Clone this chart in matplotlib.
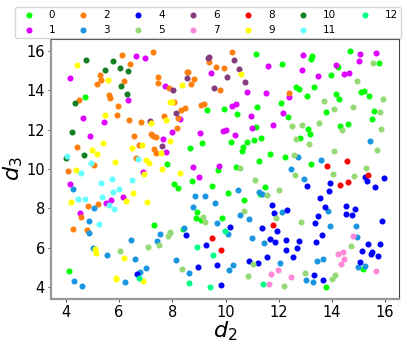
import numpy as np
import matplotlib
matplotlib.use('Agg')
import matplotlib.pyplot as plt

d2_0 = [4.73, 7.8, 11.16, 12.13, 12.08, 9.31, 9.96, 10.43, 11.18, 12.33, 11.13, 8.68, 9.12, 10.19, 10.82, 10.64, 10.62, 11.06, 11.33, 11.69, 12.23, 11.24, 10.41, 9.72, 14.69, 13.26, 13.2, 15.76, 14.21, 13.96, 12.63, 12.77, 13.31, 13.08, 14.17, 14.27, 15.1, 15.19, 15.4, 13.79, 15.58, 15.51, 14.6, 14.32, 13.11, 13.16, 12.81, 13.22, 7.31, 4.11, 8.74, 8.08, 8.23, 9.51, 10.08, 11.48, 10.71, 11.28, 8.94, 8.88, 9.07, 9.87, 8.39, 15.16, 13.76]
d3_0 = [13.64, 10.27, 15.85, 15.32, 13.34, 13.02, 13.07, 12.8, 13.14, 12.64, 12.14, 11.09, 11.32, 11.39, 11.36, 11.14, 10.93, 11.47, 11.59, 10.78, 10.61, 10.39, 10.1, 9.95, 15.98, 15.73, 15.59, 15.41, 15.17, 14.78, 14.15, 14.05, 14.17, 13.73, 13.83, 13.54, 13.93, 13.97, 13.7, 12.92, 12.95, 12.53, 12.29, 12.2, 12.05, 11.8, 11.56, 10.24, 7.17, 4.83, 9.4, 9.22, 9.03, 9.12, 8.76, 9.1, 8.44, 8.71, 7.83, 7.52, 7.4, 7.49, 6.93, 4.93, 3.98]

d2_1 = [6.62, 6.98, 4.15, 7.72, 6.35, 4.65, 5.42, 4.92, 7.66, 7.78, 9.46, 11.59, 10.79, 11.51, 10.26, 10.38, 10.94, 8.27, 12.17, 12.37, 7.99, 9.03, 9.89, 10.02, 10.34, 10.98, 11.78, 8.77, 9.76, 12.92, 15.04, 15.64, 15.01, 14.15, 12.86, 13.49, 14.47, 14.65, 6.91, 4.17, 5.51, 5.7, 6.15, 4.53, 9.01]
d3_1 = [15.75, 15.64, 14.61, 14.2, 13.49, 12.59, 12.41, 11.7, 11.51, 10.86, 14.9, 15.24, 13.92, 13.88, 13.22, 13.3, 12.71, 12.54, 12.86, 13.68, 11.9, 11.83, 11.93, 12.0, 11.75, 12.07, 12.25, 10.12, 10.17, 15.81, 15.87, 15.9, 15.51, 15.27, 15.05, 14.73, 14.81, 14.88, 9.86, 9.23, 8.27, 8.4, 8.56, 7.78, 9.61]

d2_2 = [6.11, 7.26, 6.41, 5.27, 5.31, 5.16, 6.17, 7.45, 7.48, 7.86, 5.61, 5.67, 4.5, 5.96, 5.93, 6.37, 6.82, 7.68, 6.56, 7.21, 7.28, 7.37, 6.75, 7.33, 7.38, 4.41, 6.63, 10.23, 9.39, 9.63, 9.93, 8.54, 8.58, 8.83, 8.71, 9.78, 8.06, 12.38, 8.47, 8.32, 9.09, 9.19, 8.2, 8.17, 4.08, 4.82, 5.22, 4.58, 4.28, 4.8, 5.05]
d3_2 = [15.78, 15.97, 15.36, 14.76, 14.53, 14.31, 14.46, 14.7, 14.37, 14.1, 13.76, 13.61, 13.53, 13.18, 12.76, 12.48, 12.39, 12.68, 11.66, 11.76, 11.68, 11.63, 11.2, 11.03, 10.81, 11.12, 10.56, 15.93, 15.44, 15.2, 15.14, 14.95, 14.93, 14.58, 14.34, 14.0, 13.41, 13.85, 13.1, 12.98, 13.25, 13.29, 12.61, 12.1, 9.88, 8.12, 8.22, 7.56, 6.96, 6.89, 10.2]

d2_3 = [15.42, 12.72, 13.57, 12.45, 4.26, 5.07, 4.86, 4.88, 6.43, 7.53, 7.42, 5.0, 5.55, 6.58, 7.0, 6.8, 4.32, 4.62, 6.23, 10.47, 8.87, 9.24, 11.26, 11.38, 9.61, 8.79, 10.53, 10.88, 12.11, 9.69, 8.43, 10.11, 11.0, 11.46, 12.03, 10.29, 10.14, 8.62, 8.14, 12.95, 13.85, 13.94, 14.9, 14.94, 13.65, 13.42, 14.99, 15.25, 13.02, 13.29]
d3_3 = [11.44, 10.63, 10.47, 10.02, 8.98, 8.01, 7.35, 6.74, 6.4, 6.67, 6.35, 5.96, 5.61, 5.42, 4.96, 4.78, 4.32, 4.05, 4.25, 8.95, 8.64, 8.61, 8.83, 8.73, 8.25, 8.06, 7.67, 7.44, 7.79, 7.25, 6.98, 6.71, 6.5, 6.23, 5.24, 5.1, 4.88, 4.71, 5.37, 9.49, 7.86, 7.12, 7.08, 6.54, 5.4, 5.34, 5.0, 5.07, 4.34, 4.24]

d2_4 = [6.67, 11.74, 11.84, 12.3, 10.18, 11.36, 11.93, 8.5, 11.66, 11.87, 12.26, 9.28, 12.28, 11.54, 10.9, 11.22, 9.67, 8.98, 9.82, 15.23, 15.31, 15.94, 13.91, 13.05, 13.89, 15.61, 13.55, 14.51, 14.86, 13.74, 14.54, 14.75, 13.46, 13.38, 15.88, 13.61, 12.75, 13.4, 12.69, 12.54, 15.34, 15.81, 15.13, 15.49, 15.46, 15.72, 15.06, 13.34, 13.66]
d3_4 = [4.66, 8.18, 7.74, 7.91, 7.05, 7.01, 6.83, 6.62, 6.44, 6.29, 6.39, 6.15, 5.9, 5.54, 5.3, 5.2, 5.13, 5.03, 4.1, 9.57, 9.37, 9.54, 9.27, 9.15, 8.88, 9.06, 8.52, 8.1, 7.95, 8.05, 7.71, 7.64, 7.62, 7.23, 7.37, 6.66, 6.34, 6.27, 6.0, 5.51, 6.18, 6.2, 5.84, 5.78, 5.68, 5.59, 5.27, 4.59, 4.37]

d2_5 = [10.56, 15.55, 14.96, 15.9, 13.7, 14.09, 14.78, 15.79, 12.51, 12.89, 13.52, 14.39, 15.85, 12.66, 13.14, 14.06, 15.7, 12.56, 15.29, 7.83, 7.9, 7.08, 7.51, 6.05, 11.09, 12.0, 11.57, 10.68, 9.16, 9.23, 11.89, 7.93, 8.38, 11.03, 10.84, 12.19, 12.6, 14.03, 14.84, 12.84, 14.71, 14.11, 14.0, 12.99]
d3_5 = [10.03, 15.39, 14.48, 13.58, 13.46, 13.03, 13.15, 12.88, 12.17, 12.22, 12.32, 11.97, 12.02, 11.54, 11.26, 10.9, 10.98, 10.71, 10.05, 6.61, 6.73, 6.05, 6.13, 5.83, 9.45, 8.91, 8.66, 7.88, 7.57, 7.32, 7.49, 6.78, 4.91, 5.18, 4.56, 4.06, 9.69, 9.76, 9.64, 7.29, 6.08, 4.61, 4.4, 4.73]

d2_6 = [7.15, 7.63, 9.37, 9.34, 10.32, 10.49, 8.56, 10.04, 10.73, 8.02, 9.57, 8.12]
d3_6 = [12.44, 11.17, 15.68, 15.63, 15.54, 15.09, 14.64, 14.66, 14.42, 14.03, 14.12, 12.83]

d2_7 = [11.72, 11.96, 11.63, 12.45, 14.8, 14.24, 14.41, 14.45, 14.35, 15.66]
d3_7 = [4.67, 4.84, 4.13, 4.51, 6.57, 5.69, 5.79, 5.44, 5.15, 4.79]

d2_8 = [13.82, 14.56, 11.8, 9.48, 9.84, 15.36, 14.62, 14.3]
d3_8 = [10.15, 10.42, 7.13, 6.47, 5.88, 9.68, 9.34, 9.18]

d2_9 = [4.43, 5.58, 5.48, 7.18, 7.75, 5.4, 6.5, 6.85, 4.98, 5.18, 5.83, 7.02, 7.12, 7.57, 7.9, 7.91, 10.58, 8.36, 7.97, 7.61, 4.38, 6.93, 4.2, 6.52, 6.26, 7.06, 5.1, 5.13, 6.2, 5.88, 5.9, 6.88, 8.29]
d3_9 = [15.29, 14.54, 12.73, 12.36, 12.51, 11.3, 11.05, 11.24, 10.97, 10.75, 10.36, 10.46, 10.31, 10.83, 13.4, 11.41, 14.83, 14.27, 13.42, 9.98, 9.93, 9.73, 8.34, 8.79, 8.37, 8.3, 5.93, 5.73, 5.49, 4.47, 4.43, 4.28, 9.79]

d2_10 = [4.77, 5.76, 5.46, 6.02, 6.32, 6.08, 6.28, 4.36, 4.23, 4.68, 4.02]
d3_10 = [15.56, 15.47, 15.03, 15.12, 15.0, 14.24, 13.8, 13.37, 11.86, 10.7, 10.58]

d2_11 = [4.05, 4.96, 6.7, 4.56, 5.33, 5.72, 6.47, 5.98, 5.78, 4.47, 4.71, 5.36, 5.63, 5.82, 5.25]
d3_11 = [10.66, 10.32, 10.51, 9.81, 9.3, 9.5, 9.42, 9.0, 8.84, 8.49, 8.45, 8.57, 8.17, 7.98, 7.2]

d2_12 = [6.73, 9.99, 8.92, 9.54, 8.64, 9.42, 11.39]
d3_12 = [4.45, 6.86, 6.03, 5.64, 4.2, 4.01, 4.17]

xs = [d2_0, d2_1, d2_2, d2_3, d2_4, d2_5, d2_6, d2_7, d2_8, d2_9, d2_10, d2_11, d2_12]
ys = [d3_0, d3_1, d3_2, d3_3, d3_4, d3_5, d3_6, d3_7, d3_8, d3_9, d3_10, d3_11, d3_12]
colors = ['#00ff00', '#dd00ff', '#ff7f0e', '#1a96e0', '#0000ff', '#98d977', '#843c7f',
          '#ff88d8', '#ff0000', '#ffff00', '#148024', '#66ffff', '#00ff88']

fig = plt.figure(figsize=(4.07, 3.46), dpi=100)
ax = fig.add_axes([51 / 407, 1 - 299 / 346, 348 / 407, 260 / 346])

for i in range(13):
    ax.scatter(xs[i], ys[i], s=19, c=colors[i], linewidths=0, label=str(i))

ax.set_xlim(3.44, 16.52)
ax.set_ylim(3.39, 16.61)
ax.set_xticks([4, 6, 8, 10, 12, 14, 16])
ax.set_yticks([4, 6, 8, 10, 12, 14, 16])
ax.tick_params(labelsize=10.5, length=2.5, width=0.8, pad=2, color='#555555')
ax.set_xlabel(r'$d_2$', fontsize=16, labelpad=-0.5)
ax.set_ylabel(r'$d_3$', fontsize=16, labelpad=1)
for name in ['left', 'bottom']:
    ax.spines[name].set_color('#999999')
    ax.spines[name].set_linewidth(1.6)
for name in ['top', 'right']:
    ax.spines[name].set_color('#444444')
    ax.spines[name].set_linewidth(0.8)

ax.legend(ncol=7, loc='lower left', bbox_to_anchor=(15 / 407, 1 - 38 / 346, 386 / 407, 32 / 346),
          bbox_transform=fig.transFigure, mode='expand', fontsize=7.5, borderaxespad=0,
          handletextpad=0.9, labelspacing=0.45, borderpad=0.3, columnspacing=1.0)

fig.savefig('out.png', dpi=100)
